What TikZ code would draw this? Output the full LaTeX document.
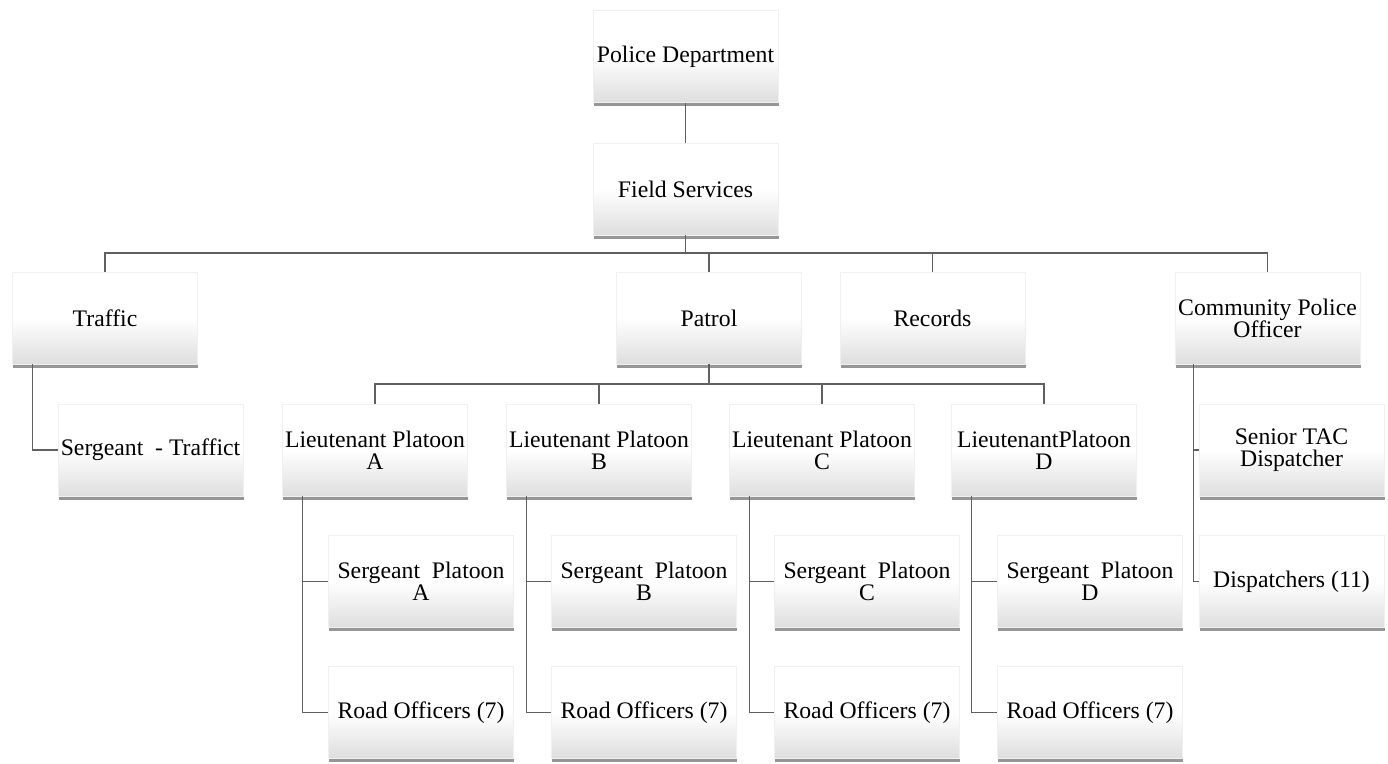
\documentclass[tikz,border=0pt]{standalone}
\usepackage{fontspec}
\setmainfont{Liberation Serif}
\usetikzlibrary{shadows}

\begin{document}
\begin{tikzpicture}[
  orgbox/.style={rectangle, draw=gray!12, line width=0.3pt,
    top color=white, bottom color=gray!26, middle color=white,
    minimum width=3.7cm, minimum height=1.84cm,
    inner sep=0pt, align=center, font=\fontsize{13.5}{12.5}\selectfont,
    drop shadow={shadow xshift=0.3pt, shadow yshift=-2pt, fill=black!75, opacity=0.55}},
  conn/.style={draw=gray!75!black, line width=0.6pt}
]
  \useasboundingbox (0,0) rectangle (27.76,-15.26);

  % === Vertice ===
  \node[orgbox] (pd) at (13.71, -1.13) {Police Department};
  \node[orgbox] (fs) at (13.71, -3.78) {Field Services};

  % === Divisioni ===
  \node[orgbox] (traffic) at (2.10, -6.36) {Traffic};
  \node[orgbox] (patrol)  at (14.18, -6.36) {Patrol};
  \node[orgbox] (records) at (18.65, -6.36) {Records};
  \node[orgbox] (cpo)     at (25.35, -6.36) {Community Police\\Officer};

  % Traffic
  \node[orgbox] (sgtraffic) at (3.01, -9.00) {Sergeant\enspace- Traffict};

  % Patrol: tenenti
  \node[orgbox] (ltA) at (7.50, -9.00) {Lieutenant Platoon\\A};
  \node[orgbox] (ltB) at (11.98, -9.00) {Lieutenant Platoon\\B};
  \node[orgbox] (ltC) at (16.44, -9.00) {Lieutenant Platoon\\C};
  \node[orgbox] (ltD) at (20.88, -9.00) {LieutenantPlatoon\\D};

  % Patrol: sergenti
  \node[orgbox] (sgA) at (8.42, -11.63) {Sergeant\enspace Platoon\\A};
  \node[orgbox] (sgB) at (12.88, -11.63) {Sergeant\enspace Platoon\\B};
  \node[orgbox] (sgC) at (17.34, -11.63) {Sergeant\enspace Platoon\\C};
  \node[orgbox] (sgD) at (21.80, -11.63) {Sergeant\enspace Platoon\\D};

  % Patrol: agenti
  \node[orgbox] (roA) at (8.42, -14.25) {Road Officers (7)};
  \node[orgbox] (roB) at (12.88, -14.25) {Road Officers (7)};
  \node[orgbox] (roC) at (17.34, -14.25) {Road Officers (7)};
  \node[orgbox] (roD) at (21.80, -14.25) {Road Officers (7)};

  % Community Police Officer
  \node[orgbox] (tac)  at (25.83, -9.00) {Senior TAC\\Dispatcher};
  \node[orgbox] (disp) at (25.83, -11.63) {Dispatchers (11)};

  % === Collegamenti ===
  \coordinate (fsbar) at (0, -5.06);
  \coordinate (ptbar) at (0, -7.68);

  \draw[conn] (pd.south) -- (fs.north);
  \draw[conn] (fs.south) -- (fs.south |- fsbar) -| (traffic.north);
  \draw[conn] (fs.south) -- (fs.south |- fsbar) -| (patrol.north);
  \draw[conn] (fs.south) -- (fs.south |- fsbar) -| (records.north);
  \draw[conn] (fs.south) -- (fs.south |- fsbar) -| (cpo.north);

  \draw[conn] (patrol.south) -- (patrol.south |- ptbar) -| (ltA.north);
  \draw[conn] (patrol.south) -- (patrol.south |- ptbar) -| (ltB.north);
  \draw[conn] (patrol.south) -- (patrol.south |- ptbar) -| (ltC.north);
  \draw[conn] (patrol.south) -- (patrol.south |- ptbar) -| (ltD.north);

  \draw[conn] ([xshift=0.4cm]traffic.south west) |- (sgtraffic.west);

  \draw[conn] ([xshift=0.4cm]ltA.south west) |- (sgA.west);
  \draw[conn] ([xshift=0.4cm]ltA.south west) |- (roA.west);
  \draw[conn] ([xshift=0.4cm]ltB.south west) |- (sgB.west);
  \draw[conn] ([xshift=0.4cm]ltB.south west) |- (roB.west);
  \draw[conn] ([xshift=0.4cm]ltC.south west) |- (sgC.west);
  \draw[conn] ([xshift=0.4cm]ltC.south west) |- (roC.west);
  \draw[conn] ([xshift=0.4cm]ltD.south west) |- (sgD.west);
  \draw[conn] ([xshift=0.4cm]ltD.south west) |- (roD.west);

  \draw[conn] ([xshift=0.38cm]cpo.south west) |- (tac.west);
  \draw[conn] ([xshift=0.38cm]cpo.south west) |- (disp.west);
\end{tikzpicture}
\end{document}
